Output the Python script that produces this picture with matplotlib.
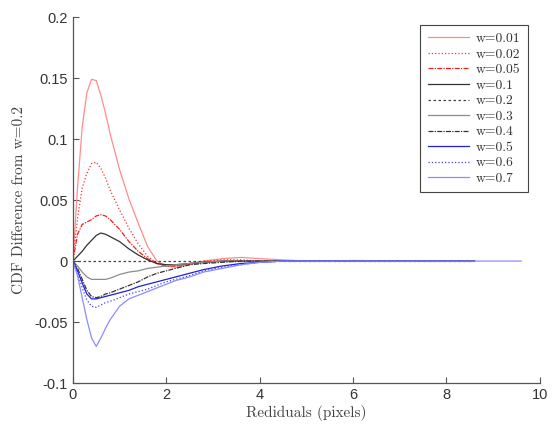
import matplotlib
matplotlib.use("Agg")
import matplotlib.pyplot as plt

# residual grid (pixels) shared by all curves
resid = [0, 0.1, 0.2, 0.3, 0.4, 0.5, 0.6, 0.7, 0.8, 1.0, 1.2, 1.4, 1.6, 1.8,
         2.0, 2.2, 2.5, 2.8, 3.2, 3.6, 4.0, 4.5, 5.0, 5.5, 6.0, 7.0, 8.0, 8.6]

d_001 = [0, 0.060, 0.110, 0.138, 0.149, 0.148, 0.136, 0.121, 0.104, 0.075, 0.051, 0.031,
         0.012, 0.000, -0.004, -0.005, -0.003, 0.000, 0.002, 0.003, 0.002, 0.001, 0.000,
         0.000, 0.0005, 0.000, 0.000, 0.000]
d_002 = [0, 0.035, 0.060, 0.072, 0.080, 0.081, 0.076, 0.068, 0.058, 0.042, 0.027, 0.014,
         0.004, -0.002, -0.004, -0.004, -0.002, 0.000, 0.001, 0.001, 0.000, 0.000, 0.000,
         0.000, 0.000, 0.000, 0.000, 0.000]
d_005 = [0, 0.022, 0.030, 0.032, 0.034, 0.037, 0.038, 0.037, 0.034, 0.026, 0.016, 0.008,
         0.002, -0.002, -0.004, -0.004, -0.002, -0.001, 0.000, 0.000, 0.000, 0.000, 0.000,
         0.000, 0.000, 0.000, 0.000, 0.000]
d_01 = [0, 0.004, 0.008, 0.013, 0.017, 0.021, 0.023, 0.022, 0.020, 0.016, 0.010, 0.005,
        0.001, -0.002, -0.003, -0.003, -0.002, -0.001, 0.000, 0.000, 0.000, 0.000, 0.000,
        0.000, 0.000, 0.000, 0.000, 0.000]
d_02 = [0] * len(resid)
d_03 = [0, -0.004, -0.009, -0.013, -0.015, -0.015, -0.015, -0.015, -0.014, -0.011, -0.009,
        -0.008, -0.006, -0.005, -0.004, -0.003, -0.002, -0.001, 0.000, 0.000, 0.000, 0.000,
        0.000, 0.000, 0.000, 0.000, 0.000, 0.000]
d_04 = [0, -0.006, -0.015, -0.024, -0.029, -0.030, -0.029, -0.027, -0.026, -0.023, -0.020,
        -0.017, -0.013, -0.010, -0.008, -0.006, -0.003, -0.002, -0.001, 0.000, 0.000, 0.000,
        0.000, 0.000, 0.000, 0.000, 0.000, 0.000]
d_05 = [0, -0.008, -0.018, -0.027, -0.031, -0.031, -0.030, -0.029, -0.028, -0.026, -0.024,
        -0.021, -0.019, -0.017, -0.015, -0.013, -0.010, -0.007, -0.004, -0.002, -0.001, 0.000,
        0.000, 0.000, 0.000, 0.000, 0.000, 0.000]
d_06 = [0, -0.010, -0.022, -0.032, -0.037, -0.038, -0.036, -0.034, -0.033, -0.030, -0.027,
        -0.025, -0.023, -0.020, -0.017, -0.015, -0.012, -0.008, -0.005, -0.003, -0.001, 0.000,
        0.000, 0.000, 0.000, 0.000, 0.000, 0.000]
# w=0.7 runs a bit further out
resid_07 = resid + [9.0, 9.6]
d_07 = [0, -0.012, -0.030, -0.048, -0.063, -0.070, -0.063, -0.055, -0.048, -0.037, -0.031,
        -0.028, -0.025, -0.022, -0.019, -0.016, -0.013, -0.009, -0.006, -0.003, -0.001, 0.000,
        0.000, 0.000, 0.000, 0.000, 0.000, 0.000, 0.000, 0.000]

labels = ["w=0.01", "w=0.02", "w=0.05", "w=0.1", "w=0.2",
          "w=0.3", "w=0.4", "w=0.5", "w=0.6", "w=0.7"]
yticks = [-0.1, -0.05, 0, 0.05, 0.1, 0.15, 0.2]
ytick_labels = ["-0.1", "-0.05", "0", "0.05", "0.1", "0.15", "0.2"]
xticks = [0, 2, 4, 6, 8, 10]

series = [(resid, d_001), (resid, d_002), (resid, d_005), (resid, d_01), (resid, d_02),
          (resid, d_03), (resid, d_04), (resid, d_05), (resid, d_06), (resid_07, d_07)]
colors = ["#ff8c8c", "#ff3030", "#f02020", "#333333", "#444444",
          "#8c8c8c", "#333333", "#2020d8", "#4040ff", "#8c8cff"]
styles = ["-", ":", (0, (4, 1, 1, 1)), "-", (0, (2, 2)),
          "-", (0, (4, 1, 1, 1)), "-", ":", "-"]

SERIF = "cmr10"
AXCOL = "#555555"

fig = plt.figure(figsize=(5.52, 4.28), dpi=100)
ax = fig.add_axes([0.132, 0.105, 0.846, 0.855])

for (xs, ys), c, ls, lab in zip(series, colors, styles, labels):
    ax.plot(xs, ys, color=c, linestyle=ls, linewidth=0.9, label=lab)

ax.set_xlim(0, 10)
ax.set_ylim(-0.1, 0.2)
ax.set_xticks(xticks)
ax.set_xticklabels([str(t) for t in xticks])
ax.set_yticks(yticks)
ax.set_yticklabels(ytick_labels)

for side in ["top", "right"]:
    ax.spines[side].set_visible(False)
for side in ["left", "bottom"]:
    ax.spines[side].set_color(AXCOL)
    ax.spines[side].set_linewidth(0.9)
ax.tick_params(direction="in", length=4, color=AXCOL, labelcolor="#333333",
               labelsize=10.5)
for t in ax.get_xticklabels() + ax.get_yticklabels():
    t.set_family("Liberation Sans")

ax.set_xlabel("Rediduals (pixels)", family=SERIF, fontsize=11, color="#444444", labelpad=2)
ax.set_ylabel("CDF Difference from w=0.2", family=SERIF, fontsize=11, color="#444444",
              labelpad=6)

leg = ax.legend(loc="upper right", bbox_to_anchor=(0.974, 0.978), borderaxespad=0,
                prop={"family": SERIF, "size": 9.8},
                handlelength=3.0, labelspacing=0.22, borderpad=0.55, fancybox=False,
                framealpha=1, edgecolor="#444444", handletextpad=0.5)
leg.get_frame().set_linewidth(0.8)
for t in leg.get_texts():
    t.set_color("#333333")

fig.savefig("out.png", dpi=100)
